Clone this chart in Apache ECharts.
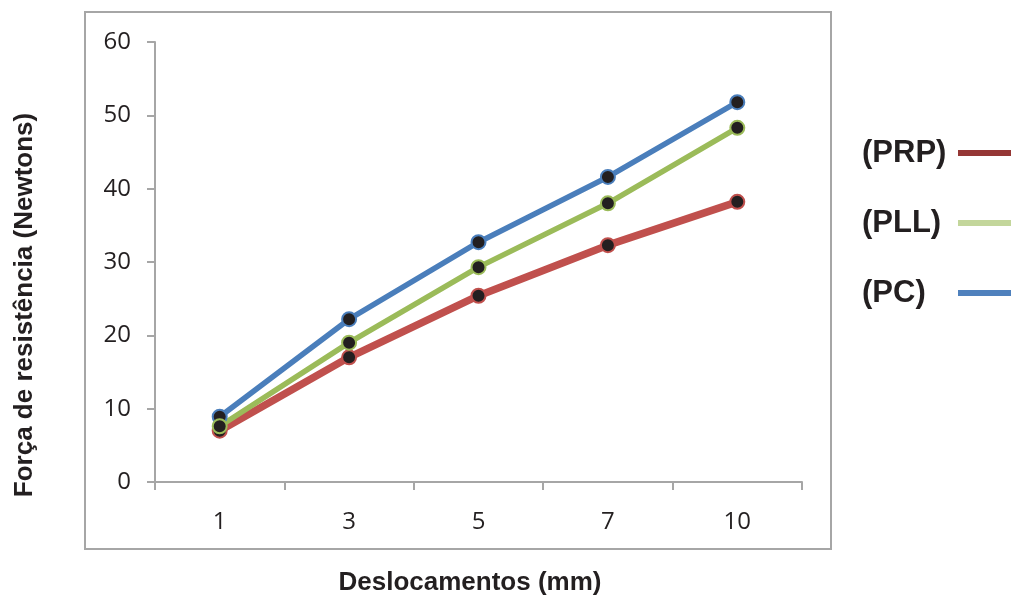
<!DOCTYPE html>
<html>
<head>
<meta charset="utf-8">
<script src="https://cdn.jsdelivr.net/npm/echarts@6/dist/echarts.min.js"></script>
<style>
html,body{margin:0;padding:0;background:#fff;}
#chart{width:1011px;height:598px;}
</style>
</head>
<body>
<div id="chart"></div>
<script>
const categories = ['1', '3', '5', '7', '10'];
const prp = [7.0, 17.0, 25.4, 32.3, 38.2];
const pll = [7.6, 19.0, 29.3, 38.0, 48.3];
const pc  = [8.9, 22.2, 32.7, 41.6, 51.8];
const seriesNames = ['(PRP)', '(PLL)', '(PC)'];
const legendColors = ['#953735', '#c3d69b', '#4f81bd'];
const yTitle = 'Força de resistência (Newtons)';
const xTitle = 'Deslocamentos (mm)';

const chart = echarts.init(document.getElementById('chart'), null, {renderer: 'canvas'});
const markerColor = '#231f20';
const boldFont = '"Liberation Sans", Arial, sans-serif';
function lineSeries(name, data, color, width) {
  return {
    name: name, type: 'line', data: data,
    symbol: 'circle', symbolSize: 14,
    lineStyle: {color: color, width: width},
    itemStyle: {color: markerColor, borderColor: color, borderWidth: 2},
    emphasis: {disabled: true},
    animation: false
  };
}
const legendGraphics = [];
seriesNames.forEach(function (n, i) {
  const cy = 153 + i * 70;
  legendGraphics.push({type: 'text', x: 862, y: cy, style: {text: n, font: 'bold 31px ' + boldFont, fill: '#231f20', textAlign: 'left', textVerticalAlign: 'middle'}});
  legendGraphics.push({type: 'rect', shape: {x: 958, y: cy - 3, width: 60, height: 6}, style: {fill: legendColors[i]}});
});
chart.setOption({
  animation: false,
  grid: {left: 155, right: 209, top: 42, bottom: 116, containLabel: false},
  graphic: [
    {type: 'rect', shape: {x: 85, y: 12, width: 746, height: 537}, style: {fill: 'none', stroke: '#a6a6a6', lineWidth: 2}, z: -1},
    {type: 'text', x: 25, y: 305, rotation: Math.PI / 2, style: {text: yTitle, font: 'bold 26px ' + boldFont, fill: '#231f20', textAlign: 'center', textVerticalAlign: 'middle'}},
    {type: 'text', x: 470, y: 583, style: {text: xTitle, font: 'bold 26px ' + boldFont, fill: '#231f20', textAlign: 'center', textVerticalAlign: 'middle'}}
  ].concat(legendGraphics),
  xAxis: {
    type: 'category', data: categories, boundaryGap: true,
    axisLine: {lineStyle: {color: '#a6a6a6', width: 2}},
    axisTick: {show: true, length: 8, inside: false, lineStyle: {color: '#a6a6a6', width: 2}},
    axisLabel: {margin: 28, fontSize: 24, color: '#231f20', fontFamily: '"Open Sans", sans-serif'},
    splitLine: {show: false}
  },
  yAxis: {
    type: 'value', min: 0, max: 60, interval: 10,
    axisLine: {show: true, lineStyle: {color: '#a6a6a6', width: 2}},
    axisTick: {show: true, length: 8, lineStyle: {color: '#a6a6a6', width: 2}},
    axisLabel: {margin: 24, fontSize: 24, color: '#231f20', fontFamily: '"Open Sans", sans-serif'},
    splitLine: {show: false}
  },
  series: [
    lineSeries(seriesNames[0], prp, '#c0504d', 7.5),
    lineSeries(seriesNames[2], pc, '#4a7ebb', 5.5),
    lineSeries(seriesNames[1], pll, '#9bbb59', 5.5)
  ]
});
</script>
</body>
</html>
